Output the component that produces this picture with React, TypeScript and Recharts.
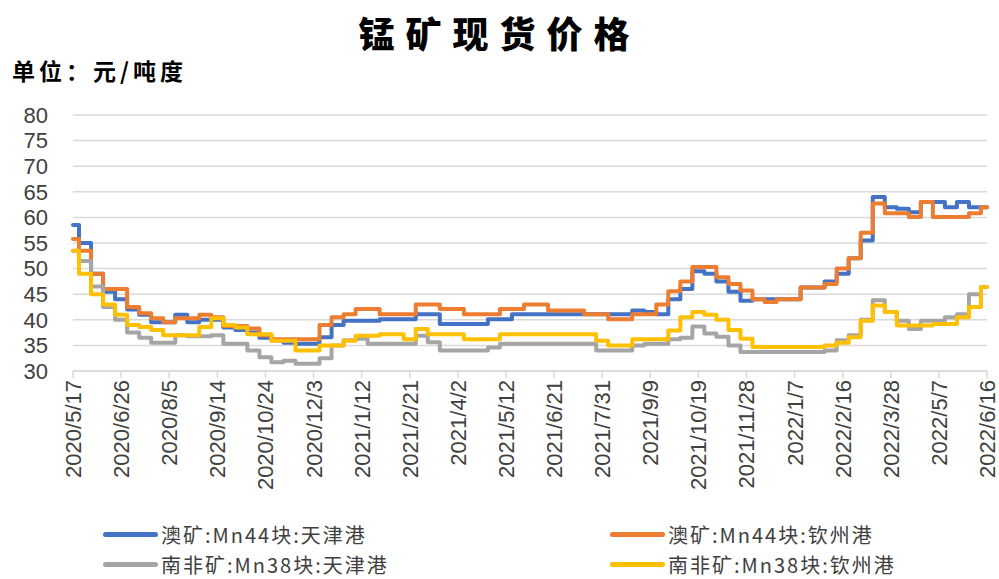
import React from 'react';
import { LineChart, Line, XAxis, YAxis, CartesianGrid } from 'recharts';

// tick labels every 40 days, starting 2020/5/17
const TICK_LABELS: string[] = [
  '2020/5/17', '2020/6/26', '2020/8/5', '2020/9/14', '2020/10/24',
  '2020/12/3', '2021/1/12', '2021/2/21', '2021/4/2', '2021/5/12',
  '2021/6/21', '2021/7/31', '2021/9/9', '2021/10/19', '2021/11/28',
  '2022/1/7', '2022/2/16', '2022/3/28', '2022/5/7', '2022/6/16',
];

// one reading every 10 days
const SAMPLE_STEP = 10;

const AU_TIANJIN: number[] = [
  58.5, 55, 49, 45.5, 44, 42, 41, 39.5, 39.5, 41,
  39.5, 40, 40, 38.5, 38, 37.5, 36.5, 36, 35.5, 35.3,
  35.3, 36.6, 39, 39.8, 39.8, 39.8, 40.1, 40.1, 40.1, 41.1,
  41.1, 39.2, 39.2, 39.2, 39.2, 40.1, 40.1, 41.1, 41.1, 41.1,
  41.1, 41.1, 41.1, 41.1, 41.1, 41.1, 41.1, 41.8, 41.5, 41.1,
  44, 46, 49.5, 49, 47.5, 45.5, 43.7, 44, 44, 44,
  44, 46.3, 46.3, 47.5, 49, 52, 55.5, 64, 62, 61.7,
  61, 63, 63, 62, 63, 62, 62,
];

const AU_QINZHOU: number[] = [
  55.8, 53.5, 49, 46, 46, 42.5, 41.3, 40.3, 39.5, 40.3,
  40.3, 41, 40.5, 38.8, 38.8, 38.3, 37, 36.2, 36.2, 36.2,
  36.2, 39, 40.5, 41.1, 42.1, 42.1, 41.1, 41.1, 41.1, 43,
  43, 42.1, 42.1, 41.1, 41.1, 41.1, 42.1, 42.1, 43, 43,
  41.8, 41.8, 41.8, 41.1, 41.1, 40.1, 40.1, 41.1, 41.1, 43,
  45.6, 47.5, 50.3, 50.3, 48.3, 47, 45.7, 44, 43.5, 44,
  44, 46.3, 46.3, 47, 50, 52, 57, 62.7, 60.8, 60.8,
  60.1, 63, 60.1, 60.1, 60.1, 60.8, 62,
];

const SA_TIANJIN: number[] = [
  53.5, 51.5, 46.5, 42.5, 40, 37.5, 36.5, 35.5, 35.5, 37,
  36.8, 36.8, 37, 35.3, 35.3, 34, 32.7, 31.7, 32, 31.4,
  31.4, 32.5, 35, 36, 36.3, 35.3, 35.3, 35.3, 35.3, 36.9,
  35.6, 34, 34, 34, 34, 34.6, 35.3, 35.3, 35.3, 35.3,
  35.3, 35.3, 35.3, 35.3, 34, 34, 34, 35, 35.3, 35.3,
  36.2, 36.5, 38.7, 37.3, 36.7, 35, 33.7, 33.7, 33.7, 33.7,
  33.7, 33.7, 33.7, 34, 36, 37, 40, 43.8, 41.5, 39.8,
  38.2, 39.8, 39.8, 40.5, 41.1, 45, 46.4,
];

const SA_QINZHOU: number[] = [
  53.5, 49, 45, 43, 41, 39, 38.6, 38, 37, 37,
  37, 38.6, 40.3, 39, 38.5, 37.2, 37.2, 35.9, 35.9, 34,
  34, 35, 35, 35.9, 36.9, 36.9, 37.2, 37.2, 36.2, 38.2,
  37.2, 37.2, 37.2, 36.2, 36.2, 36.2, 37.2, 37.2, 37.2, 37.2,
  37.2, 37.2, 37.2, 37.2, 35.9, 35, 35, 36.2, 36.2, 36.2,
  37.9, 40.5, 41.5, 41, 40, 38, 36.3, 34.7, 34.7, 34.7,
  34.7, 34.7, 34.7, 35, 35.5, 36.6, 39.8, 42.8, 41.5, 38.9,
  38.9, 38.9, 39.2, 39.2, 40.5, 42.5, 46.4,
];

const SERIES = [
  { key: 'auTj', name: '澳矿:Mn44块:天津港', color: '#4472C4' },
  { key: 'auQz', name: '澳矿:Mn44块:钦州港', color: '#ED7D31' },
  { key: 'saTj', name: '南非矿:Mn38块:天津港', color: '#A5A5A5' },
  { key: 'saQz', name: '南非矿:Mn38块:钦州港', color: '#FFC000' },
];

const Y_TICKS = [30, 35, 40, 45, 50, 55, 60, 65, 70, 75, 80];
const X_TICKS = TICK_LABELS.map((_, i) => i * 40);

const data = AU_TIANJIN.map((v, i) => ({
  day: i * SAMPLE_STEP,
  auTj: v,
  auQz: AU_QINZHOU[i],
  saTj: SA_TIANJIN[i],
  saQz: SA_QINZHOU[i],
}));

const TICK_FONT = '"Liberation Sans", Arial, sans-serif';
const CJK_FONT = '"Noto Sans CJK SC", "Noto Sans", sans-serif';

const DateTick = (props: any) => {
  const { x, y, payload } = props;
  const label = TICK_LABELS[Math.round(payload.value / 40)] ?? '';
  return (
    <g transform={`translate(${x},${y})`}>
      <text
        transform="rotate(-90)"
        x={0}
        y={0}
        dy={8}
        textAnchor="end"
        fill="#404040"
        fontSize={22}
        fontFamily={TICK_FONT}
      >
        {label}
      </text>
    </g>
  );
};

export default function App() {
  return (
    <div
      style={{
        position: 'absolute',
        left: 0,
        top: 0,
        width: 999,
        height: 579,
        background: '#fff',
        overflow: 'hidden',
      }}
    >
      <div
        style={{
          position: 'absolute',
          left: 0,
          width: 999,
          top: 12,
          textAlign: 'center',
          fontFamily: CJK_FONT,
          fontWeight: 900,
          fontSize: 36,
          lineHeight: '40px',
          letterSpacing: 11,
          color: '#000',
        }}
      >
        锰矿现货价格
      </div>
      <div
        style={{
          position: 'absolute',
          left: 12,
          top: 56,
          fontFamily: CJK_FONT,
          fontWeight: 'bold',
          fontSize: 23,
          lineHeight: '28px',
          letterSpacing: 4,
          color: '#000',
        }}
      >
        单位：元/吨度
      </div>

      <LineChart
        width={999}
        height={579}
        data={data}
        margin={{ top: 115, right: 12, bottom: 0, left: 0 }}
      >
        <CartesianGrid vertical={false} stroke="#D9D9D9" strokeWidth={1.5} />
        <XAxis
          dataKey="day"
          type="number"
          domain={[0, 760]}
          ticks={X_TICKS}
          interval={0}
          height={208}
          tickSize={7}
          tickMargin={2}
          axisLine={{ stroke: '#D9D9D9', strokeWidth: 1.5 }}
          tickLine={{ stroke: '#D9D9D9', strokeWidth: 1.5 }}
          tick={<DateTick />}
        />
        <YAxis
          domain={[30, 80]}
          ticks={Y_TICKS}
          interval={0}
          width={73}
          axisLine={false}
          tickLine={false}
          tickSize={0}
          tickMargin={25}
          tick={{ fill: '#404040', fontSize: 22, fontFamily: TICK_FONT }}
        />
        {SERIES.map((s) => (
          <Line
            key={s.key}
            dataKey={s.key}
            name={s.name}
            type="step"
            stroke={s.color}
            strokeWidth={4}
            strokeLinejoin="round"
            strokeLinecap="round"
            dot={false}
            activeDot={false}
            isAnimationActive={false}
          />
        ))}
      </LineChart>

      {SERIES.map((s, i) => (
        <div
          key={s.key}
          style={{
            position: 'absolute',
            left: i % 2 === 0 ? 103 : 610,
            top: i < 2 ? 520 : 550,
            height: 29,
            lineHeight: '29px',
            display: 'flex',
            alignItems: 'center',
            fontFamily: CJK_FONT,
            fontSize: 20,
            letterSpacing: 2,
            color: '#404040',
            whiteSpace: 'nowrap',
          }}
        >
          <span
            style={{
              display: 'inline-block',
              width: 55,
              height: 5,
              borderRadius: 3,
              background: s.color,
              marginRight: 3,
            }}
          />
          {s.name}
        </div>
      ))}
    </div>
  );
}
